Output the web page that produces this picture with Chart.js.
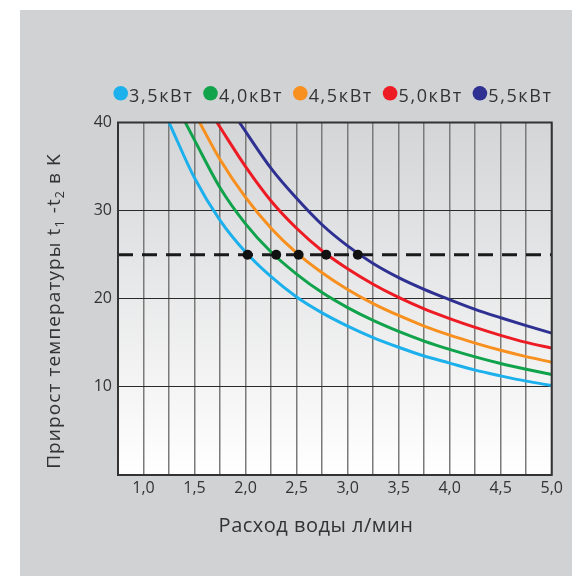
<!DOCTYPE html>
<html>
<head>
<meta charset="utf-8">
<script src="https://cdn.jsdelivr.net/npm/chart.js@4.4.1/dist/chart.umd.min.js"></script>
<style>
  html, body { margin: 0; padding: 0; background: #fff; }
  #panel { position: absolute; left: 20px; top: 10px; width: 552px; height: 566px; background: #d1d2d4; }
</style>
</head>
<body>
<div id="panel"><canvas id="riseChart"></canvas></div>
<script>
'use strict';

// water flow, l/min (shared x points)
var flowGrid = [1.5, 1.75, 2.0, 2.25, 2.5, 2.75, 3.0, 3.25, 3.5, 3.75, 4.0, 4.25, 4.5, 4.75, 5.0];
// flow where each curve leaves the top of the chart (40 K)
var startFlow = [1.25, 1.41, 1.55, 1.72, 1.94];
var topRise = 40;

// temperature rise t1-t2, K
var rise35 = [33.7, 28.9, 25.3, 22.5, 20.2, 18.4, 16.9, 15.6, 14.5, 13.5, 12.7, 11.9, 11.25, 10.65, 10.15];
var rise40 = [38.0, 32.6, 28.5, 25.3, 22.8, 20.7, 19.0, 17.55, 16.3, 15.2, 14.25, 13.4, 12.65, 12.0, 11.4];
var rise45 = [null, 35.8, 31.5, 28.0, 25.2, 22.95, 21.05, 19.45, 18.1, 16.9, 15.87, 14.97, 14.15, 13.43, 12.8];
var rise50 = [null, null, 35.0, 31.1, 28.0, 25.45, 23.4, 21.65, 20.15, 18.85, 17.75, 16.75, 15.85, 15.05, 14.4];
var rise55 = [null, null, null, 34.8, 31.4, 28.4, 26.0, 24.0, 22.4, 21.07, 19.9, 18.8, 17.85, 16.95, 16.1];

var seriesLabels = ['3,5кВт', '4,0кВт', '4,5кВт', '5,0кВт', '5,5кВт'];
var seriesColors = ['#1cb0ec', '#10a34b', '#f7901e', '#ed1c24', '#2e3192'];
var seriesValues = [rise35, rise40, rise45, rise50, rise55];

// 25 K reference level and where each curve meets it
var refRise = 25;
var refFlow = [2.02, 2.30, 2.52, 2.79, 3.10];

var xMin = 0.75, xMax = 5.0;
var fontFamily = '"Open Sans", "Liberation Sans", sans-serif';
var textColor = '#333';

function curvePoints(k) {
  var pts = [{ x: startFlow[k], y: topRise }];
  seriesValues[k].forEach(function (v, i) {
    if (v !== null) pts.push({ x: flowGrid[i], y: v });
  });
  return pts;
}

var datasets = [];
// dots first so they sit on top
datasets.push({
  type: 'scatter',
  data: refFlow.map(function (x) { return { x: x, y: refRise }; }),
  pointRadius: 5,
  pointBackgroundColor: '#111',
  pointBorderWidth: 0
});
for (var k = 0; k < seriesValues.length; k++) {
  datasets.push({
    type: 'line',
    label: seriesLabels[k],
    data: curvePoints(k),
    borderColor: seriesColors[k],
    borderWidth: 3,
    pointRadius: 0,
    cubicInterpolationMode: 'monotone',
    fill: false
  });
}
datasets.push({
  type: 'line',
  data: [{ x: xMin, y: refRise }, { x: xMax, y: refRise }],
  borderColor: '#1a1a1a',
  borderWidth: 3,
  borderDash: [15, 9],
  pointRadius: 0
});

// plot background gradient
var backdrop = {
  id: 'backdrop',
  beforeDraw: function (chart) {
    var a = chart.chartArea, ctx = chart.ctx;
    var g = ctx.createLinearGradient(0, a.top, 0, a.bottom);
    g.addColorStop(0, '#d4d5d7');
    g.addColorStop(1, '#ffffff');
    ctx.save();
    ctx.fillStyle = g;
    ctx.fillRect(a.left, a.top, a.right - a.left, a.bottom - a.top);
    ctx.restore();
  }
};

// frame, legend and axis titles
var decor = {
  id: 'decor',
  afterDraw: function (chart) {
    var a = chart.chartArea, ctx = chart.ctx;
    ctx.save();
    ctx.strokeStyle = '#333';
    ctx.lineWidth = 2;
    ctx.strokeRect(a.left, a.top, a.right - a.left, a.bottom - a.top);

    // legend
    ctx.font = '18px ' + fontFamily;
    ctx.letterSpacing = '1.6px';
    ctx.textBaseline = 'alphabetic';
    ctx.textAlign = 'left';
    for (var i = 0; i < seriesLabels.length; i++) {
      var cx = 100.7 + i * 89.8;
      ctx.fillStyle = seriesColors[i];
      ctx.beginPath();
      ctx.arc(cx, 83.3, 7.3, 0, Math.PI * 2);
      ctx.fill();
      ctx.fillStyle = textColor;
      ctx.fillText(seriesLabels[i], cx + 8.4, 91.7);
    }

    // x title
    ctx.font = '20px ' + fontFamily;
    ctx.letterSpacing = '0.5px';
    ctx.textAlign = 'center';
    ctx.fillText('Расход воды л/мин', 296, 521.7);

    // y title with subscripts
    var parts = [
      ['Прирост температуры t', false], ['1', true], [' -t', false], ['2', true], [' в K', false]
    ];
    var mainFont = '19px ' + fontFamily, subFont = '12.5px ' + fontFamily;
    ctx.letterSpacing = '1.1px';
    var total = 0;
    parts.forEach(function (p) {
      ctx.font = p[1] ? subFont : mainFont;
      total += ctx.measureText(p[0]).width;
    });
    ctx.translate(40, 301);
    ctx.rotate(-Math.PI / 2);
    ctx.textAlign = 'left';
    var px = -total / 2;
    parts.forEach(function (p) {
      ctx.font = p[1] ? subFont : mainFont;
      ctx.fillText(p[0], px, p[1] ? 4 : 0);
      px += ctx.measureText(p[0]).width;
    });
    ctx.restore();
  }
};

new Chart(document.getElementById('riseChart'), {
  type: 'line',
  data: { datasets: datasets },
  options: {
    responsive: true,
    maintainAspectRatio: false,
    animation: false,
    layout: { padding: { top: 112.5, right: 20.3, bottom: 61, left: 0 } },
    plugins: { legend: { display: false }, tooltip: { enabled: false } },
    scales: {
      x: {
        type: 'linear',
        min: xMin,
        max: xMax,
        afterFit: function (scale) { scale.height = 40; },
        grid: { color: '#7a7a7a', lineWidth: 1.5, drawTicks: false },
        border: { display: false },
        ticks: {
          stepSize: 0.25,
          autoSkip: false,
          maxRotation: 0,
          padding: 4,
          color: textColor,
          font: { family: fontFamily, size: 16 },
          callback: function (v) {
            var h = v * 2;
            if (v >= 1 && Math.abs(h - Math.round(h)) < 1e-6) return v.toFixed(1).replace('.', ',');
            return '';
          }
        }
      },
      y: {
        min: 0,
        max: 40,
        afterFit: function (scale) { scale.width = 98; },
        grid: { color: '#2a2a2a', lineWidth: 1, drawTicks: false },
        border: { display: false },
        ticks: {
          stepSize: 10,
          padding: 6,
          color: textColor,
          font: { family: fontFamily, size: 16 },
          callback: function (v) { return v === 0 ? '' : v; }
        }
      }
    }
  },
  plugins: [backdrop, decor]
});
</script>
</body>
</html>
